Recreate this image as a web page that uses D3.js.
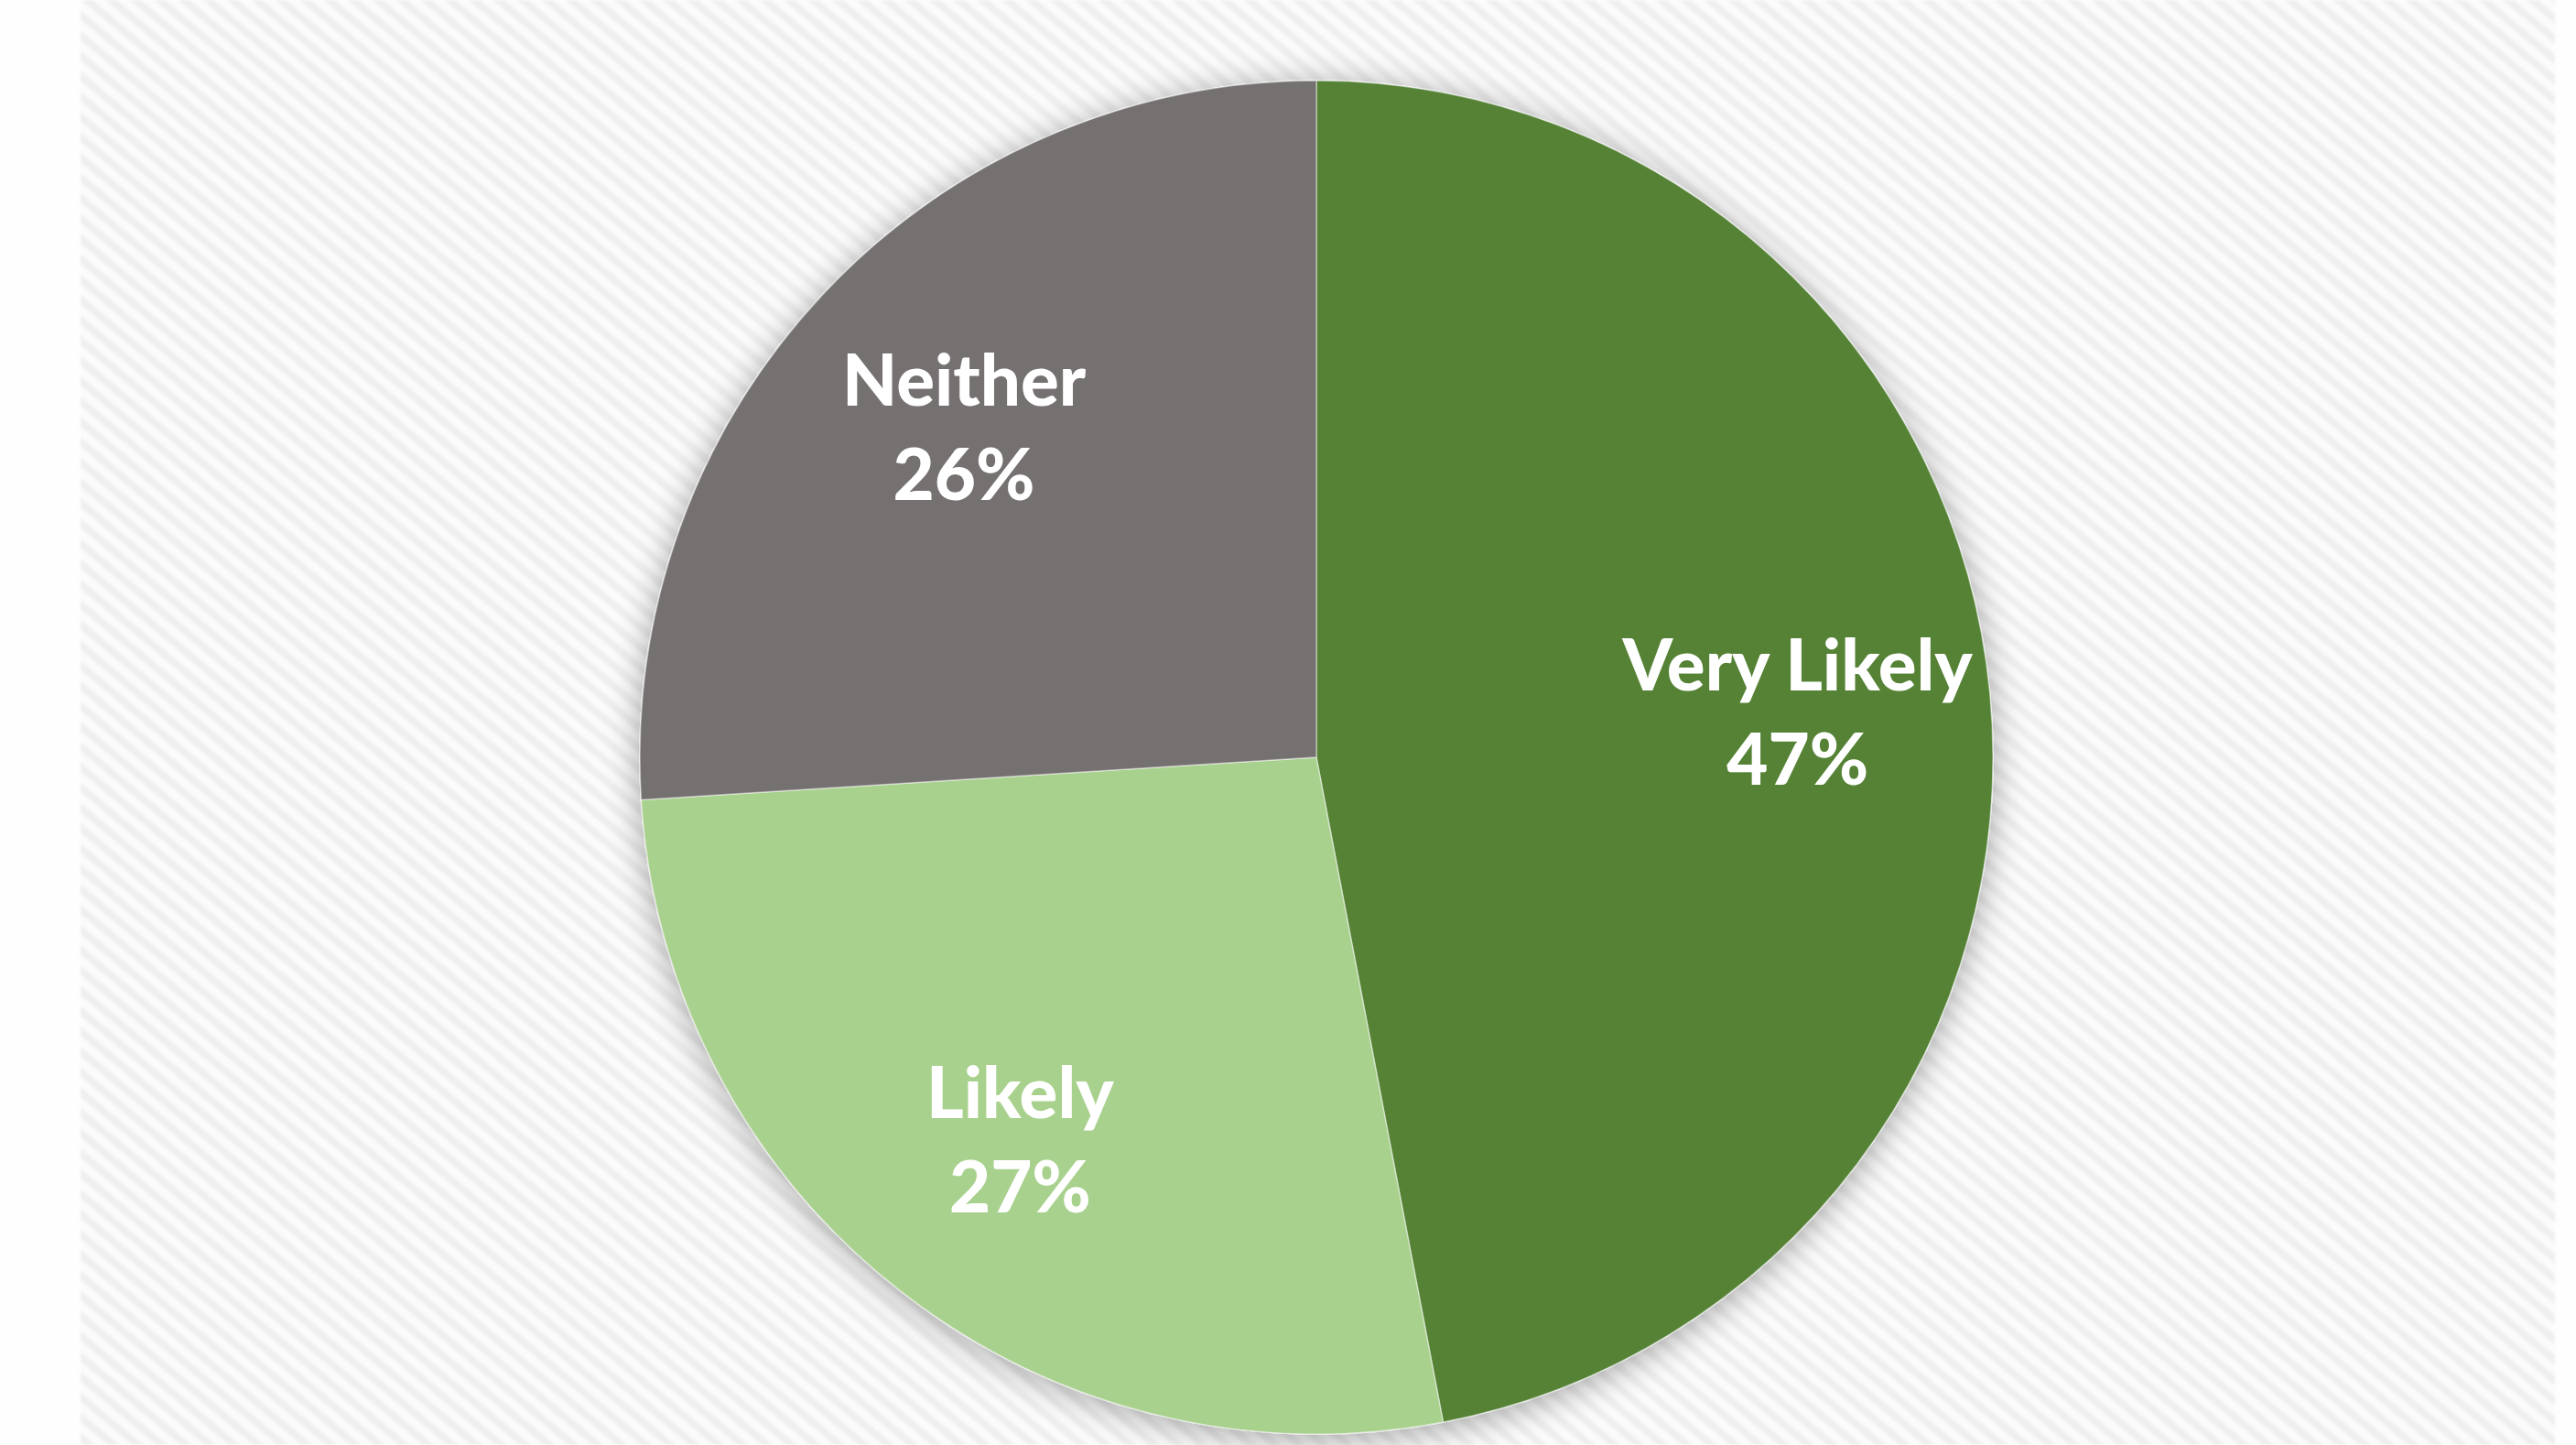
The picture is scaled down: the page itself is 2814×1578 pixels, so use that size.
<!DOCTYPE html>
<html>
<head>
<meta charset="utf-8">
<script src="https://cdn.jsdelivr.net/npm/d3@7"></script>
<style>
  html, body { margin: 0; padding: 0; background: #fefefe; }
  svg { display: block; }
</style>
</head>
<body>
<div id="chart"></div>
<script>
// data
var categories = ["Very Likely", "Likely", "Neither"];
var values = [47, 27, 26];
var colors = ["#548235", "#a9d18e", "#767171"];

var W = 2814, H = 1578;
var cx = 1438, cy = 827, radius = 739, labelRadius = 528;

var svg = d3.select("#chart")
  .append("svg")
    .attr("width", W)
    .attr("height", H);

var defs = svg.append("defs");

// diagonal striped background
var pat = defs.append("pattern")
    .attr("id", "stripes")
    .attr("patternUnits", "userSpaceOnUse")
    .attr("width", 40)
    .attr("height", 17)
    .attr("patternTransform", "rotate(40)");
pat.append("rect").attr("width", 40).attr("height", 17).attr("fill", "#fbfbfb");
pat.append("rect").attr("y", 3).attr("width", 40).attr("height", 8).attr("fill", "#efefef");

var blur = defs.append("filter").attr("id", "soft");
blur.append("feGaussianBlur").attr("stdDeviation", 1.5);

var shadow = defs.append("filter")
    .attr("id", "shadow")
    .attr("x", "-20%").attr("y", "-20%")
    .attr("width", "140%").attr("height", "140%");
shadow.append("feDropShadow")
    .attr("dx", 0).attr("dy", 5)
    .attr("stdDeviation", 18)
    .attr("flood-color", "#000")
    .attr("flood-opacity", 0.35);

svg.append("rect")
    .attr("x", 88).attr("y", 0)
    .attr("width", 2791 - 88).attr("height", H)
    .attr("fill", "url(#stripes)")
    .attr("filter", "url(#soft)");

var pie = d3.pie().sort(null).value(function(d) { return d; });
var arcs = pie(values);

var arc = d3.arc().innerRadius(0).outerRadius(radius);
var labelArc = d3.arc().innerRadius(labelRadius).outerRadius(labelRadius);

var g = svg.append("g")
    .attr("transform", "translate(" + cx + "," + cy + ")");

g.append("g")
    .attr("filter", "url(#shadow)")
  .selectAll("path")
  .data(arcs)
  .enter()
  .append("path")
    .attr("d", arc)
    .attr("fill", function(d, i) { return colors[i]; })
    .attr("stroke", "rgba(255,255,255,0.45)")
    .attr("stroke-width", 1.5);

var labels = g.append("g")
  .selectAll("text")
  .data(arcs)
  .enter()
  .append("text")
    .attr("transform", function(d) { return "translate(" + labelArc.centroid(d) + ")"; })
    .attr("text-anchor", "middle")
    .attr("fill", "#ffffff")
    .style("font-family", "Lato, 'Open Sans', sans-serif")
    .style("font-weight", "900")
    .style("font-size", "78px");

labels.append("tspan")
    .attr("x", 0)
    .attr("y", -23)
    .text(function(d, i) { return categories[i]; });

labels.append("tspan")
    .attr("x", 0)
    .attr("y", 80)
    .text(function(d) { return d.value + "%"; });
</script>
</body>
</html>
